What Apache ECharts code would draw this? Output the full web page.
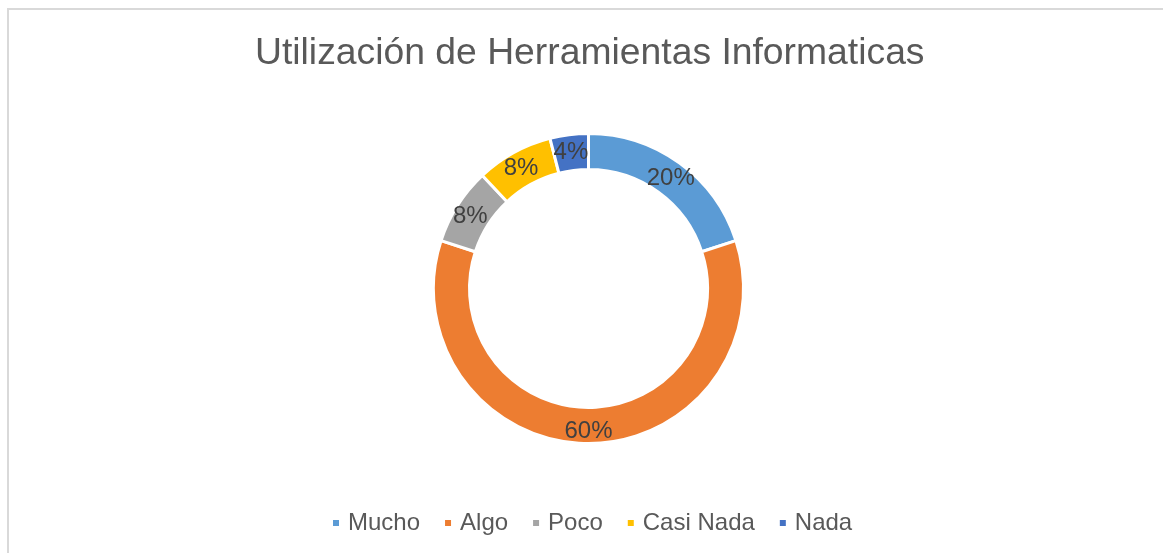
<!DOCTYPE html>
<html>
<head>
<meta charset="utf-8">
<script src="https://cdn.jsdelivr.net/npm/echarts@6/dist/echarts.min.js"></script>
<style>
html,body{margin:0;padding:0;background:#fff;}
#frame{position:absolute;left:7px;top:8px;width:1200px;height:600px;border:2px solid #d9d9d9;box-sizing:border-box;}
#chart{position:absolute;left:0;top:0;width:1163px;height:553px;}
</style>
</head>
<body>
<div id="frame"></div>
<div id="chart"></div>
<script>
const titleText = 'Utilización de Herramientas Informaticas';
const categories = ['Mucho', 'Algo', 'Poco', 'Casi Nada', 'Nada'];
const values = [20, 60, 8, 8, 4];
const colors = ['#5B9BD5', '#ED7D31', '#A5A5A5', '#FFC000', '#4472C4'];

const font = '"Liberation Sans", Arial, sans-serif';
const chart = echarts.init(document.getElementById('chart'), null, {renderer: 'canvas'});
chart.setOption({
  backgroundColor: 'transparent',
  animation: false,
  title: {
    text: titleText,
    left: 250,
    top: 30,
    textStyle: {fontFamily: font, fontSize: 37.3, fontWeight: 'normal', color: '#595959'}
  },
  legend: {
    data: categories,
    bottom: 13,
    left: 326,
    icon: 'rect',
    itemWidth: 8,
    itemHeight: 8,
    itemGap: 23,
    textStyle: {fontFamily: font, fontSize: 24, color: '#595959', padding: [0, 0, 0, 3]}
  },
  series: [{
    type: 'pie',
    center: [588.5, 288.5],
    radius: [119, 155],
    startAngle: 90,
    clockwise: true,
    avoidLabelOverlap: false,
    itemStyle: {borderColor: '#fff', borderWidth: 3},
    label: {
      show: true,
      position: 'inside',
      formatter: '{d}%',
      fontFamily: font,
      fontSize: 24,
      color: '#404040',
      offset: [0, 3]
    },
    labelLine: {show: false},
    emphasis: {disabled: true},
    data: categories.map((c, i) => ({name: c, value: values[i], itemStyle: {color: colors[i]}}))
  }]
});
</script>
</body>
</html>
